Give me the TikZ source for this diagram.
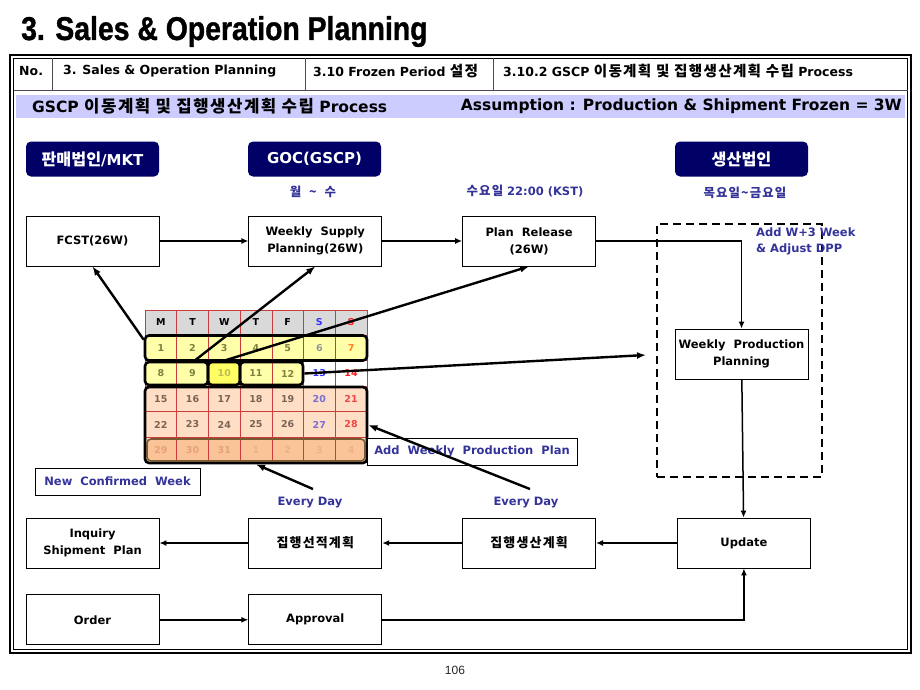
\documentclass[tikz,border=0pt]{standalone}
\usepackage{fontspec}
\setmainfont{DejaVu Sans}
\newfontfamily\krfont{Noto Sans CJK KR}[Scale=1.08]
\newfontfamily\krwide{Noto Sans CJK KR}[Scale=1.08, LetterSpace=9]
\newfontfamily\arialfont{Liberation Sans}
\newfontfamily\titlefont{Liberation Sans}[BoldFeatures={FakeBold=1.2}]
\usepackage{tikz}
\usetikzlibrary{arrows.meta,positioning,calc}
\definecolor{hdnavy}{RGB}{0,0,102}
\definecolor{lblue}{RGB}{51,51,153}
\definecolor{band}{RGB}{204,204,255}
\definecolor{calgrid}{RGB}{205,60,60}
\definecolor{calhead}{RGB}{217,217,217}
\definecolor{calyel}{RGB}{255,255,170}
\definecolor{caltoday}{RGB}{255,255,100}
\definecolor{calpeach}{RGB}{255,222,198}
\definecolor{calnext}{RGB}{250,196,152}
\definecolor{calbrown}{RGB}{120,90,50}
\definecolor{calblue}{RGB}{51,51,255}
\definecolor{calred}{RGB}{255,30,30}
\definecolor{dayol}{RGB}{128,128,64}
\definecolor{daypale}{RGB}{190,190,80}
\definecolor{daygray}{RGB}{150,150,150}
\definecolor{dayorange}{RGB}{255,128,30}
\definecolor{daybrown}{RGB}{120,100,85}
\definecolor{daypurple}{RGB}{120,110,210}
\definecolor{daysalmon}{RGB}{240,70,70}
\definecolor{dayfadeA}{RGB}{232,160,120}
\definecolor{dayfadeB}{RGB}{240,176,136}
\newcommand\hangul[1]{{\krfont #1}}
\newcommand\widehangul[1]{{\krwide #1}}
\newcommand\hdhangul[1]{{\krwide\fontsize{13.5}{16}\selectfont #1}}
\newcommand\boxhangul[1]{{\krwide\fontsize{12}{17}\selectfont #1}}
\tikzset{
  procbox/.style={draw, line width=0.8pt, fill=white, align=center, minimum width=133pt,
    minimum height=50pt, inner sep=2pt, font=\bfseries\fontsize{11.5}{17}\selectfont},
  orgbox/.style={fill=hdnavy, rounded corners=5pt, text=white, minimum width=133pt,
    minimum height=35pt, font=\bfseries\fontsize{15}{18}\selectfont},
  bluenote/.style={text=lblue, align=left, font=\bfseries\fontsize{11.5}{16}\selectfont},
  notebox/.style={bluenote, draw, line width=0.6pt, fill=white, inner sep=0pt, minimum height=27pt},
  hdtext/.style={inner sep=0pt, anchor=west, font=\bfseries\fontsize{12.5}{16}\selectfont},
  bandtext/.style={inner sep=0pt, font=\bfseries\fontsize{15.5}{18}\selectfont},
  arrow/.style={-{Latex[length=7pt,width=6pt]}, line width=1.5pt},
  callout/.style={-{Latex[length=9pt,width=7pt]}, line width=2.4pt},
  weekbox/.style={draw, line width=2.6pt, rounded corners=4pt, inner sep=0pt},
  calnum/.style={font=\bfseries\fontsize{9.5}{11}\selectfont},
  calline/.style={draw=calgrid, line width=0.6pt}
}
\begin{document}
\begin{tikzpicture}[x=1pt, y=-1pt]
  \useasboundingbox (0,0) rectangle (920,690);
  \fill[white] (0,0) rectangle (920,690);
  % title and page frame
  \node[anchor=base west, inner sep=0pt] (title) at (21,40)
    {\scalebox{0.86}[1]{\titlefont\bfseries\fontsize{33}{36}\selectfont 3. Sales \& Operation Planning}};
  \draw[line width=2.6pt] (10,55) rectangle (911,653);
  \draw[line width=0.6pt] (13.5,58.5) rectangle (907.5,649.5);
  \draw[line width=0.8pt, black!70] (13.5,90) -- (907.5,90);
  \foreach \x in {52,305,493}
    \draw[line width=0.8pt, black!70] (\x,58.5) -- (\x,90);
  \node[hdtext] (hno) at (19,71) {No.};
  \node[hdtext] (hsop) at (63,71) {3. Sales \& Operation Planning};
  \node[hdtext] (hfrz) at (313,71) {3.10 Frozen Period \hdhangul{설정}};
  \node[hdtext] (hproc) at (503,71) {3.10.2 GSCP \hdhangul{이동계획 및 집행생산계획 수립} Process};
  \fill[band] (16,95) rectangle (905,118);
  \node[bandtext, anchor=west] (bandl) at (32,106.5) {GSCP \widehangul{이동계획 및 집행생산계획 수립} Process};
  \node[bandtext, anchor=east] (bandr) at (902,106.5) {Assumption : Production \& Shipment Frozen = 3W};

  % organisations
  \node[orgbox] (sales) at (92.5,159) {\hangul{판매법인}/MKT};
  \node[orgbox] (goc) at (314.5,159) {GOC(GSCP)};
  \node[orgbox] (plant) at (741.5,159) {\hangul{생산법인}};
  \node[bluenote] (goctime) at (313,192) {\widehangul{월\ \ \textasciitilde\ \ 수}};
  \node[bluenote] (reltime) at (525,191) {\widehangul{수요일} 22:00 (KST)};
  \node[bluenote] (plttime) at (745,193) {\widehangul{목요일\textasciitilde 금요일}};

  % frozen area
  \node[draw, line width=1.5pt, dash pattern=on 8pt off 5pt, minimum width=165pt,
    minimum height=253pt, inner sep=0pt] (frozen) at (739.5,350.5) {};
  \node[bluenote, anchor=north west, inner sep=0pt] (addw) at (756,228) {Add W+3 Week\\\& Adjust DPP};

  % process boxes
  \node[procbox] (fcst) at (92.5,241) {FCST(26W)};
  \node[procbox, right=89pt of fcst] (wsp) {Weekly\ \ Supply\\Planning(26W)};
  \node[procbox, right=80pt of wsp] (rel) {Plan\ \ Release\\(26W)};
  \node[procbox] (wpp) at (741.5,354) {Weekly\ \ Production\\Planning};
  \node[procbox] (inq) at (92.5,543) {Inquiry\\Shipment\ \ Plan};
  \node[procbox, right=89pt of inq] (exship) {\boxhangul{집행선적계획}};
  \node[procbox, right=80pt of exship] (exprod) {\boxhangul{집행생산계획}};
  \node[procbox, right=81pt of exprod] (upd) {Update};
  \node[procbox, below=26pt of inq] (order) {Order};
  \node[procbox, right=89pt of order] (appr) {Approval};

  % calendar
  \fill[calhead] (145,310) rectangle (367,335);
  \fill[calyel, rounded corners=4pt] (145,335.5) rectangle (367,360.5);
  \fill[calyel, rounded corners=4pt] (145,362) rectangle (303,385);
  \fill[caltoday] (208,362) rectangle (240,385);
  \fill[calpeach, rounded corners=4pt] (145,387) rectangle (367,463);
  \fill[calnext, rounded corners=4pt] (147,439) rectangle (365,461);
  \foreach \c in {0,...,7}
    \draw[calline] ({145+31.7*\c},310) -- ({145+31.7*\c},462.5);
  \foreach \y in {310,335,360.5,386,411.5,437}
    \draw[calline] (145,\y) -- (367,\y);
  \foreach \d/\col [count=\c from 0] in {M/black,T/black,W/black,T/black,F/black,S/calblue,S/calred}
    \node[calnum, text=\col] at ({160.85+31.7*\c},322.5) {\d};
  \foreach \n/\col [count=\c from 0] in {1/dayol,2/dayol,3/dayol,4/dayol,5/dayol,6/daygray,7/dayorange}
    \node[calnum, text=\col] at ({160.85+31.7*\c},348) {\n};
  \foreach \n/\col [count=\c from 0] in {8/dayol,9/dayol,10/daypale,11/dayol,12/dayol,13/calblue,14/calred}
    \node[calnum, text=\col] at ({160.85+31.7*\c},373.5) {\n};
  \foreach \n/\col [count=\c from 0] in {15/daybrown,16/daybrown,17/daybrown,18/daybrown,19/daybrown,20/daypurple,21/daysalmon}
    \node[calnum, text=\col] at ({160.85+31.7*\c},399) {\n};
  \foreach \n/\col [count=\c from 0] in {22/daybrown,23/daybrown,24/daybrown,25/daybrown,26/daybrown,27/daypurple,28/daysalmon}
    \node[calnum, text=\col] at ({160.85+31.7*\c},424.5) {\n};
  \foreach \n/\col [count=\c from 0] in {29/dayfadeA,30/dayfadeA,31/dayfadeA,1/dayfadeB,2/dayfadeB,3/dayfadeB,4/dayfadeB}
    \node[calnum, text=\col] at ({160.85+31.7*\c},450) {\n};
  \node[weekbox, minimum width=222pt, minimum height=25pt] (wk1) at (256,348) {};
  \node[weekbox, minimum width=63pt, minimum height=23pt] (wk2) at (176.5,373.5) {};
  \node[weekbox, minimum width=32pt, minimum height=23pt] (wk10) at (224,373.5) {};
  \node[weekbox, minimum width=63pt, minimum height=23pt] (wk11) at (271.5,373.5) {};
  \node[weekbox, minimum width=222pt, minimum height=76pt] (wk3) at (256,425) {};
  \node[weekbox, draw=calbrown, line width=1.6pt, minimum width=218pt, minimum height=22pt] (wk5) at (256,450) {};

  % notes
  \node[notebox, minimum width=210pt] (addplan) at (472,451.5) {Add\ \ Weekly\ \ Production\ \ Plan};
  \node[notebox, minimum width=165pt] (newwk) at (117.5,481.5) {New\ \ Confirmed\ \ Week};
  \node[bluenote] (ed1) at (310,503) {Every Day};
  \node[bluenote] (ed2) at (526,503) {Every Day};
  \coordinate (tofrz) at (646,355);

  % connectors
  \foreach \a/\b in {fcst/wsp,wsp/rel,wpp/upd,upd/exprod,exprod/exship,exship/inq,order/appr}
    \draw[arrow] (\a) -- (\b);
  \draw[arrow] (rel.east) -| (wpp.north);
  \draw[arrow] (appr.east) -| (upd.south);
  \draw[callout] ($(wk1.north west)!0.2!(wk1.south west)$) -- (fcst.south);
  \draw[callout] ($(wk1.south west)!0.22!(wk1.south east)$) -- (wsp.south);
  \draw[callout] (wk10.north) -- (rel.south);
  \draw[callout] (wk11.east) -- (tofrz);
  \draw[callout] ($(ed2.north)+(4,-5)$) -- (wk3.east);
  \draw[callout] ($(ed1.north)+(3,-5)$) -- (wk3.south);

  \node[font=\arialfont\fontsize{12}{14}\selectfont, text=black!85] (pgno) at (455,670) {106};
\end{tikzpicture}
\end{document}
